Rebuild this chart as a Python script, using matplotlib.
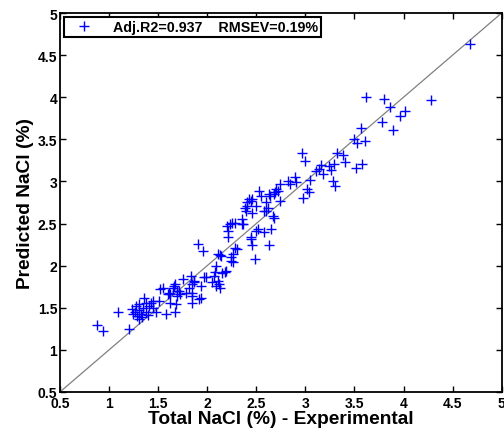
import numpy as np
import matplotlib
matplotlib.use("Agg")
from matplotlib import pyplot as plt

exp_nacl = [
    0.88, 0.94, 1.09, 1.20, 1.23, 1.26, 1.28, 1.31, 1.31, 1.33, 1.36, 1.38, 1.41, 1.43,
    1.45, 1.48, 1.51, 1.52, 1.55, 1.58, 1.30, 1.35, 1.27, 1.40, 1.45, 1.34, 1.24, 1.38,
    1.60, 1.62, 1.65, 1.67, 1.68, 1.69, 1.71, 1.75, 1.78, 1.81, 1.83, 1.84, 1.85, 1.87,
    1.92, 1.94, 1.97, 2.05, 2.08, 2.09, 2.12, 2.13, 2.15, 2.19, 1.91, 1.96, 2.11, 2.07,
    2.11, 1.99, 2.09, 2.13, 1.87, 1.84, 1.67, 1.69, 1.72, 1.62, 1.94, 1.85, 1.66, 1.61,
    2.18,
    2.20, 2.21, 2.21, 2.24, 2.25, 2.26, 2.30, 2.35, 2.38, 2.40, 2.41, 2.45, 2.46, 2.46,
    2.49, 2.52, 2.28, 2.23, 2.35, 2.26, 2.28, 2.14, 2.24, 2.50, 2.58, 2.65, 2.63,
    2.41, 2.50, 2.46, 2.58, 2.62, 2.68, 2.36, 2.45, 2.53, 2.55, 2.60, 2.74, 2.63, 2.69,
    2.72, 2.64, 2.68, 2.43, 2.45, 2.60, 2.67,
    2.74, 2.82, 2.84, 2.89, 2.90, 2.70, 2.97, 3.00, 3.02, 3.04, 2.98, 3.05, 3.11, 3.14,
    3.16, 3.18, 3.24, 3.26, 3.29, 3.32, 3.38, 3.40, 3.28, 3.30, 3.52, 3.58, 3.50, 3.53,
    3.61, 3.57, 3.62, 3.80, 3.86, 3.96, 4.01, 3.78, 3.89, 4.28, 4.68,
]
pred_nacl = [
    1.29, 1.22, 1.45, 1.25, 1.49, 1.45, 1.40, 1.54, 1.37, 1.43, 1.62, 1.45, 1.52, 1.56,
    1.58, 1.45, 1.58, 1.72, 1.74, 1.43, 1.47, 1.50, 1.52, 1.42, 1.50, 1.39, 1.43, 1.56,
    1.66, 1.56, 1.74, 1.45, 1.54, 1.64, 1.70, 1.84, 1.68, 1.74, 1.88, 1.56, 1.68, 1.82,
    1.60, 1.76, 1.86, 1.80, 1.93, 2.00, 1.78, 2.13, 1.91, 1.94, 2.26, 2.17, 2.14, 1.88,
    1.82, 1.86, 1.76, 1.74, 1.81, 1.78, 1.78, 1.70, 1.66, 1.66, 1.62, 1.64, 1.76, 1.68,
    1.92,
    2.47, 2.41, 2.34, 2.10, 2.51, 2.04, 2.20, 2.55, 2.69, 2.65, 2.75, 2.34, 2.24, 2.79,
    2.08, 2.43, 2.51, 2.49, 2.49, 2.14, 2.21, 2.12, 2.06, 2.41, 2.40, 2.43, 2.24,
    2.71, 2.71, 2.63, 2.65, 2.69, 2.57, 2.49, 2.77, 2.89, 2.83, 2.75, 2.77, 2.85, 2.87,
    2.89, 2.83, 2.85, 2.79, 2.32, 2.65, 2.59,
    2.97, 3.01, 2.97, 3.05, 2.99, 2.91, 3.34, 3.24, 2.91, 2.87, 2.80, 3.02, 3.12, 3.15,
    3.19, 3.09, 3.18, 3.14, 3.21, 3.34, 3.31, 3.23, 3.00, 2.95, 3.16, 3.21, 3.50, 3.46,
    3.48, 3.63, 4.00, 3.98, 3.88, 3.78, 3.84, 3.70, 3.61, 3.97, 4.63,
]

ticks = [0.5, 1, 1.5, 2, 2.5, 3, 3.5, 4, 4.5, 5]
tick_labels = ["0.5", "1", "1.5", "2", "2.5", "3", "3.5", "4", "4.5", "5"]

plt.rcParams["font.family"] = ["Liberation Sans", "DejaVu Sans"]

fig = plt.figure(figsize=(5.04, 4.35), dpi=100)
ax = fig.add_axes([0.119, 0.0966, 0.8764, 0.8712])

ax.plot([0.5, 5], [0.5, 5], color="#808080", lw=0.9)
ax.plot(exp_nacl, pred_nacl, ls="none", marker="+", color="blue",
        markersize=7, markeredgewidth=1.0,
        label="Adj.R2=0.937    RMSEV=0.19%")

ax.set_xlim(0.5, 5)
ax.set_ylim(0.5, 5)
ax.set_xticks(ticks)
ax.set_yticks(ticks)
ax.set_xticklabels(tick_labels, fontweight="bold", fontsize=10)
ax.set_yticklabels(tick_labels, fontweight="bold", fontsize=10)
ax.tick_params(axis="both", direction="in", length=4, width=1, top=True, right=True)
ax.tick_params(axis="x", pad=3)
ax.tick_params(axis="y", pad=2)
for s in ax.spines.values():
    s.set_linewidth(1.3)

ax.set_xlabel("Total NaCl (%) - Experimental", fontweight="bold", fontsize=13.8, labelpad=0)
ax.set_ylabel("Predicted NaCl (%)", fontweight="bold", fontsize=13.8, labelpad=3)

leg = ax.legend(loc="upper left", fancybox=False, framealpha=1, edgecolor="black",
                prop={"weight": "bold", "size": 10.3}, borderaxespad=0.3,
                handlelength=2.4, borderpad=0.2)
leg.get_frame().set_linewidth(1.5)

fig.savefig("out.png", dpi=100)
